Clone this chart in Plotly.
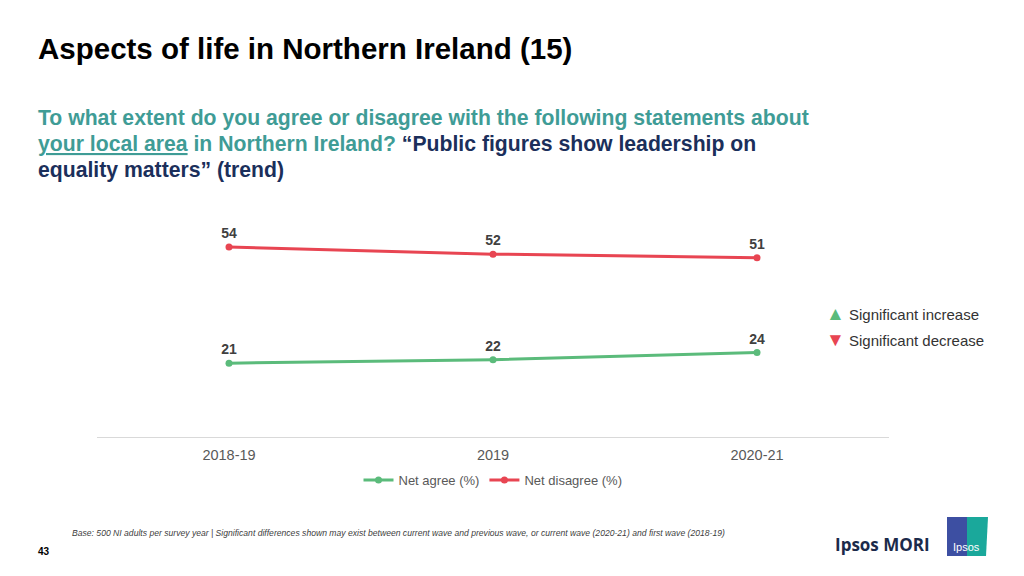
import plotly.graph_objects as go

waves = ["2018-19", "2019", "2020-21"]
net_agree = [21, 22, 24]
net_disagree = [54, 52, 51]

GREEN = "#5bbb7b"
RED = "#e84552"
TEAL = "#3f9c96"
NAVY = "#1b2f5b"
FONT = "Liberation Sans, Arial, sans-serif"

fig = go.Figure()
for name, vals, col in [("Net agree (%)", net_agree, GREEN), ("Net disagree (%)", net_disagree, RED)]:
    fig.add_trace(go.Scatter(
        x=waves, y=vals, name=name, mode="lines+markers+text",
        line=dict(color=col, width=3), marker=dict(size=7, color=col),
        text=[str(v) for v in vals], textposition="top center",
        textfont=dict(family=FONT, size=14, color="#404040", weight="bold"),
        cliponaxis=False,
    ))

OFF = 8  # page body margin
W, H = 792, 211
L = 97 - OFF
T = 226 - OFF
B = 576 - T - H


def px(x):
    return (x - OFF - L) / W


def py(y):
    return (T + H - (y - OFF)) / H


fig.update_layout(
    width=1024, height=576,
    margin=dict(l=L, r=1024 - L - W, t=T, b=B, autoexpand=False),
    paper_bgcolor="white", plot_bgcolor="white",
    font=dict(family=FONT, color="#595959"),
    showlegend=True,
    legend=dict(orientation="h", x=0.5, xanchor="center", y=py(465), yanchor="top",
                font=dict(size=13, color="#595959"), traceorder="normal"),
    xaxis=dict(type="category", range=[-0.5, 2.5], showgrid=False,
               showline=True, linecolor="#d9d9d9", linewidth=1,
               ticks="", ticklabelstandoff=5, tickfont=dict(size=14.5, color="#595959")),
    yaxis=dict(range=[0, 60], visible=False, showgrid=False, zeroline=False),
)

fig.add_annotation(xref="paper", yref="paper", x=px(36), y=py(48), xanchor="left", yanchor="middle",
                   showarrow=False, text="<b>Aspects of life in Northern Ireland (15)</b>",
                   font=dict(family=FONT, size=29.5, color="#000000"))

lines = [
    f"<b>To what extent do you agree or disagree with the following statements about</b>",
    f"<b><span style='text-decoration:underline'>your local area</span> in Northern Ireland? "
    f"<span style='color:{NAVY}'>“Public figures show leadership on</span></b>",
    f"<b><span style='color:{NAVY}'>equality matters” (trend)</span></b>",
]
for i, t in enumerate(lines):
    fig.add_annotation(xref="paper", yref="paper", x=px(36), y=py(118 + 26 * i),
                       xanchor="left", yanchor="middle", align="left", showarrow=False, text=t,
                       font=dict(family=FONT, size=21.2, color=TEAL))

fig.add_annotation(xref="paper", yref="paper", x=px(824), y=py(313), xanchor="left", yanchor="middle",
                   showarrow=False,
                   text=f"<span style='color:{GREEN};font-size:19px'>▲</span> Significant increase",
                   font=dict(family=FONT, size=15, color="#333333"))
fig.add_annotation(xref="paper", yref="paper", x=px(824), y=py(339), xanchor="left", yanchor="middle",
                   showarrow=False,
                   text=f"<span style='color:{RED};font-size:19px'>▼</span> Significant decrease",
                   font=dict(family=FONT, size=15, color="#333333"))

fig.add_annotation(xref="paper", yref="paper", x=px(70), y=py(533), xanchor="left", yanchor="middle",
                   showarrow=False,
                   text="<i>Base: 500 NI adults per survey year | Significant differences shown may exist between current wave and previous wave, or current wave (2020-21) and first wave (2018-19)</i>",
                   font=dict(family=FONT, size=8.6, color="#404040"))
fig.add_annotation(xref="paper", yref="paper", x=px(36), y=py(551), xanchor="left", yanchor="middle",
                   showarrow=False, text="<b>43</b>", font=dict(family=FONT, size=10, color="#000000"))

fig.add_annotation(xref="paper", yref="paper", x=px(932), y=py(544), xanchor="right", yanchor="middle",
                   showarrow=False, text="<b>Ipsos MORI</b>",
                   font=dict(family="Open Sans, sans-serif", size=17, color="#1b2a4a"))
fig.add_shape(type="rect", xref="paper", yref="paper", x0=px(947), x1=px(968), y0=py(556), y1=py(517),
              fillcolor="#3d4fa2", line=dict(width=0), layer="above")
fig.add_shape(type="path", xref="paper", yref="paper",
              path=f"M {px(967)},{py(517)} L {px(988)},{py(517)} L {px(986)},{py(556)} L {px(967)},{py(556)} Z",
              fillcolor="#1aa89b", line=dict(width=0), layer="above")
fig.add_annotation(xref="paper", yref="paper", x=px(967), y=py(547), xanchor="center", yanchor="middle",
                   showarrow=False, text="Ipsos", font=dict(family=FONT, size=11, color="white"))

fig.write_html("out.html")
